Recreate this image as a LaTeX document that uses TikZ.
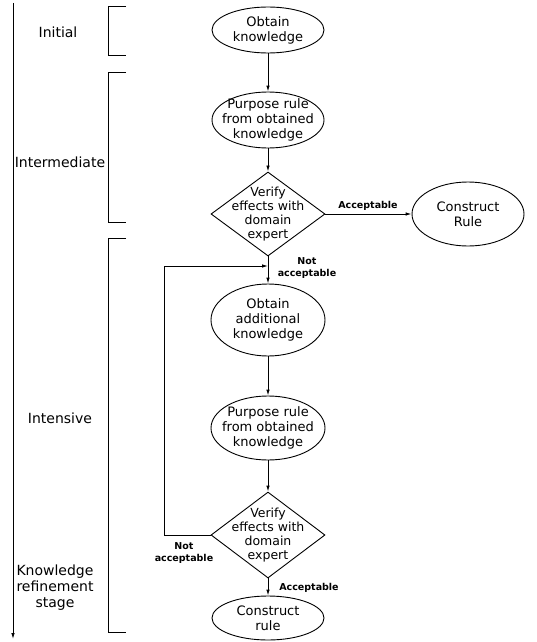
\documentclass[tikz,border=0pt]{standalone}
\usepackage{fontspec}
\setmainfont{DejaVu Sans}
\usetikzlibrary{shapes.geometric,arrows.meta}
\begin{document}
\begin{tikzpicture}[x=1pt,y=-1pt,
  line width=0.9pt,
  oval/.style={ellipse,draw,inner sep=0pt},
  decide/.style={diamond,draw,inner sep=0pt,minimum width=114pt,minimum height=84pt},
  txt/.style={font=\fontsize{13}{15}\selectfont,align=center,inner sep=0pt},
  dtxt/.style={font=\fontsize{12.5}{14.3}\selectfont,align=center,inner sep=0pt},
  elab/.style={font=\bfseries\fontsize{9.5}{12}\selectfont,align=center,inner sep=0pt},
  stage/.style={font=\fontsize{14}{16}\selectfont,align=center,inner sep=0pt},
  arr/.style={-{Latex[length=6pt,width=3.5pt]}}]
\useasboundingbox (0,0) rectangle (537,642);

% stage axis
\coordinate (axtop) at (13,3);
\coordinate (axbot) at (13,639);
\draw[arr] (axtop) -- (axbot);

% brackets
\draw (126,6) -- (108,6) -- (108,55) -- (126,55);
\draw (126,72) -- (108,72) -- (108,222) -- (126,222);
\draw (126,238) -- (108,238) -- (108,632) -- (126,632);

% stage labels
\node[stage] (sInit) at (58,32) {Initial};
\node[stage] (sInter) at (60,162) {Intermediate};
\node[stage] (sInt) at (60,418) {Intensive};
\node[stage] (sKnow) at (55,588) {Knowledge\\refinement\\stage};

% flow nodes
\node[oval,minimum width=112pt,minimum height=46pt,label={[txt]center:{Obtain\\knowledge}}] (ok) at (268,30) {};
\node[oval,minimum width=112pt,minimum height=56pt,label={[txt]center:{Purpose rule\\from obtained\\knowledge}}] (pr1) at (268,120) {};
\node[decide,label={[dtxt]center:{Verify\\effects with\\domain\\expert}}] (d1) at (268,214) {};
\node[oval,minimum width=112pt,minimum height=64pt,label={[txt]center:{Construct\\Rule}}] (cr1) at (468,214) {};
\node[oval,minimum width=114pt,minimum height=72pt,label={[txt]center:{Obtain\\additional\\knowledge}}] (oa) at (268,320) {};
\node[oval,minimum width=114pt,minimum height=64pt,label={[txt]center:{Purpose rule\\from obtained\\knowledge}}] (pr2) at (268,428) {};
\node[decide,minimum height=86pt,label={[dtxt]center:{Verify\\effects with\\domain\\expert}}] (d2) at (268,535) {};
\node[oval,minimum width=112pt,minimum height=44pt,label={[txt]center:{Construct\\rule}}] (cr2) at (268,618) {};

\coordinate (j) at (268,266);

% connectors
\draw[arr] (ok) -- (pr1);
\draw[arr] (pr1) -- (d1);
\draw[arr] (d1.east) -- (cr1.west);
\draw[arr] (d1.south) -- (oa.north);
\draw[arr] (oa) -- (pr2);
\draw[arr] (pr2) -- (d2);
\draw[arr] (d2.south) -- (cr2.north);
\draw[arr] (d2.west) -- (164,535) |- (j);

% edge labels
\node[elab] (lAcc1) at (368,206) {Acceptable};
\node[elab] (lNot1) at (307,268) {Not\\acceptable};
\node[elab] (lNot2) at (184,553) {Not\\acceptable};
\node[elab] (lAcc2) at (309,588) {Acceptable};
\end{tikzpicture}
\end{document}
